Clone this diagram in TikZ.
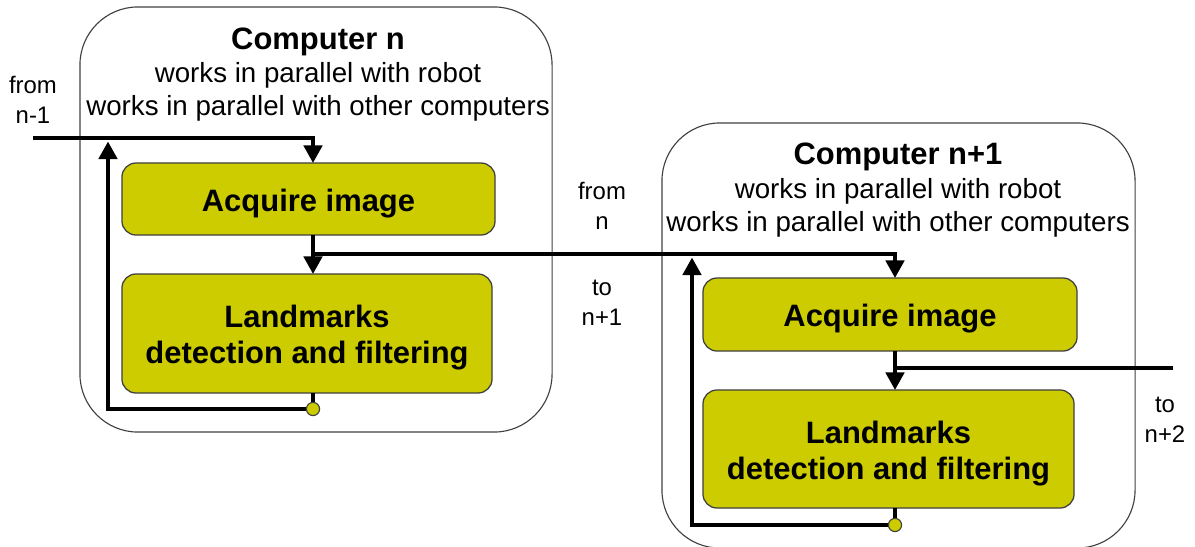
\documentclass[tikz,border=0pt]{standalone}
\usepackage{fontspec}
\setmainfont{Liberation Sans}
\usetikzlibrary{arrows.meta}
\usepackage{xcolor}
\definecolor{boxfill}{RGB}{204,204,0}
\definecolor{boxline}{RGB}{64,64,64}

\begin{document}
\begin{tikzpicture}[x=0.025cm, y=-0.025cm, >={Triangle[length=12.5pt, width=13pt]}]
				\tikzstyle{pc} = [draw=boxline, line width=0.8pt, rounded corners=1.45cm, inner sep=0pt, outer sep=0pt]
				\tikzstyle{task} = [draw=boxline, line width=0.9pt, fill=boxfill, rounded corners=0.35cm, inner sep=0pt, outer sep=0pt, align=center, text height=21.8pt, font=\fontsize{22}{25.6}\selectfont\bfseries]
				\tikzstyle{title} = [font=\fontsize{22}{26}\selectfont\bfseries]
				\tikzstyle{desc} = [align=center, font=\fontsize{19.7}{23.5}\selectfont]
				\tikzstyle{side} = [align=center, font=\fontsize{17}{21.3}\selectfont]
				\tikzstyle{wire} = [line width=2.8pt]
				\tikzstyle{dot} = [draw=boxline, line width=0.8pt, fill=boxfill, circle, inner sep=0pt, minimum size=0.33cm]

				\useasboundingbox (0, 0) rectangle (1195, 546);

				% the two computers
				\node[pc, minimum width=11.8cm, minimum height=10.625cm]	at (316, 219.5)	(pcA)	{};
				\node[pc, minimum width=11.825cm, minimum height=10.625cm]	at (898.5, 335.5)	(pcB)	{};

				\node[title]	at (318, 42)	(titleA)	{Computer n};
				\node[desc]	at (318, 92)	(descA)	{works in parallel with robot\\works in parallel with other computers};
				\node[title]	at (898, 157)	(titleB)	{Computer n+1};
				\node[desc]	at (898, 207.5)	(descB)	{works in parallel with robot\\works in parallel with other computers};

				% processing steps
				\node[task, minimum width=9.325cm, minimum height=1.8cm]	at (308.5, 199)	(acqA)	{Acquire image};
				\node[task, text height=47.5pt, minimum width=9.25cm, minimum height=2.975cm]	at (307, 333.5)	(lmA)	{Landmarks\\detection and filtering};
				\node[task, minimum width=9.35cm, minimum height=1.825cm]	at (890, 314.5)	(acqB)	{Acquire image};
				\node[task, text height=47.5pt, minimum width=9.275cm, minimum height=2.95cm]	at (888.5, 449)	(lmB)	{Landmarks\\detection and filtering};

				% labels outside the boxes
				\node[side]	at (33, 99.5)	(fromA)	{from\\n-1};
				\node[side]	at (602, 205.5)	(fromB)	{from\\n};
				\node[side]	at (602, 302.5)	(toB)	{to\\n+1};
				\node[side]	at (1165, 419.5)	(toC)	{to\\n+2};

				\coordinate (inA)	at (33, 138);
				\coordinate (tapA)	at (313, 409);
				\coordinate (upA)	at (108, 141.5);
				\coordinate (splitA)	at (313, 254);
				\coordinate (tapB)	at (895, 525);
				\coordinate (upB)	at (692, 257.5);
				\coordinate (splitB)	at (895, 368);
				\coordinate (outB)	at (1173, 368);

				% data flow
				\draw[wire, ->] (inA) -| (acqA.north -| tapA);
				\draw[wire, ->] (acqA.south -| tapA) -- (lmA.north -| tapA);
				\draw[wire] (lmA.south -| tapA) -- (tapA);
				\draw[wire, ->] (tapA) -| (upA);
				\draw[wire, ->] (splitA) -| (acqB.north -| tapB);
				\draw[wire, ->] (acqB.south -| tapB) -- (lmB.north -| tapB);
				\draw[wire] (splitB) -- (outB);
				\draw[wire] (lmB.south -| tapB) -- (tapB);
				\draw[wire, ->] (tapB) -| (upB);

				\node[dot]	at (tapA)	(dotA)	{};
				\node[dot]	at (tapB)	(dotB)	{};
			\end{tikzpicture}
\end{document}
